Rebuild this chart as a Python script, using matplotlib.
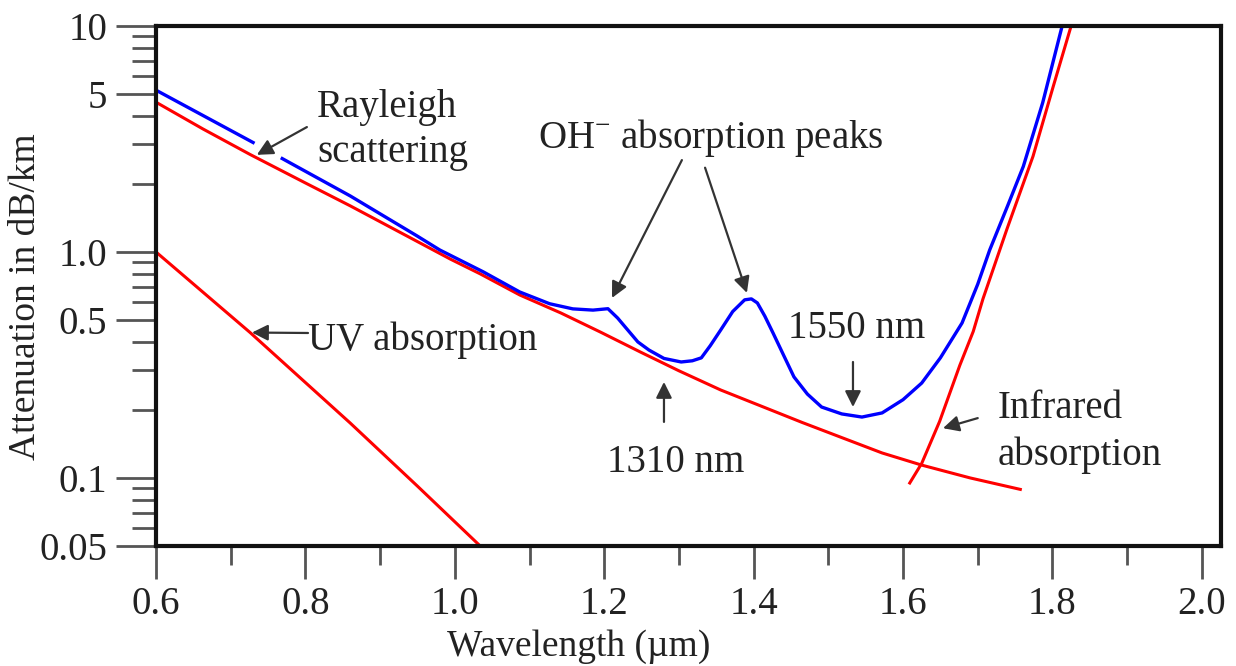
import numpy as np
import matplotlib
matplotlib.use('Agg')
import matplotlib.pyplot as plt
from matplotlib.ticker import FixedLocator, FixedFormatter

plt.rcParams['font.family'] = ['Liberation Serif', 'DejaVu Serif']
plt.rcParams['mathtext.fontset'] = 'custom'
plt.rcParams['mathtext.rm'] = 'Liberation Serif'

# total attenuation (blue), gap where the Rayleigh arrow points
wl_total = [0.600, 0.730, np.nan, 0.769, 0.860, 0.949, 0.980, 1.038, 1.087, 1.127,
            1.158, 1.185, 1.205, 1.218, 1.228, 1.245, 1.260, 1.280, 1.303, 1.318,
            1.330, 1.342, 1.356, 1.372, 1.388, 1.397, 1.405, 1.415, 1.426, 1.440,
            1.454, 1.472, 1.491, 1.518, 1.545, 1.572, 1.600, 1.625, 1.650, 1.679,
            1.700, 1.716, 1.740, 1.761, 1.787, 1.813]
att_total = [5.2, 3.05, np.nan, 2.59, 1.77, 1.18, 1.02, 0.817, 0.665, 0.59,
             0.56, 0.553, 0.561, 0.51, 0.466, 0.40, 0.368, 0.338, 0.326, 0.330,
             0.340, 0.385, 0.452, 0.545, 0.614, 0.620, 0.595, 0.52, 0.438, 0.35,
             0.28, 0.235, 0.206, 0.192, 0.186, 0.194, 0.222, 0.263, 0.34, 0.485,
             0.72, 1.02, 1.60, 2.39, 4.58, 10.0]

# Rayleigh scattering
wl_rayleigh = [0.600, 0.663, 0.726, 0.800, 0.860, 0.927, 0.994, 1.034, 1.087,
               1.142, 1.195, 1.249, 1.300, 1.356, 1.410, 1.465, 1.520, 1.572,
               1.625, 1.690, 1.757]
att_rayleigh = [4.6, 3.5, 2.70, 2.02, 1.60, 1.22, 0.93, 0.80, 0.645,
                0.537, 0.442, 0.36, 0.298, 0.245, 0.208, 0.176, 0.150, 0.129,
                0.114, 0.100, 0.089]

# UV absorption
wl_uv = [0.600, 0.726, 0.860, 0.950, 1.034]
att_uv = [1.0, 0.44, 0.175, 0.092, 0.05]

# infrared absorption
wl_ir = [1.609, 1.625, 1.649, 1.676, 1.694, 1.707, 1.739, 1.774, 1.801, 1.825]
att_ir = [0.095, 0.116, 0.178, 0.315, 0.445, 0.62, 1.26, 2.65, 5.39, 10.0]

y_major = [0.05, 0.1, 0.5, 1.0, 5, 10]
y_labels = ['0.05', '0.1', '0.5', '1.0', '5', '10']
y_minor = [0.06, 0.07, 0.08, 0.09, 0.2, 0.3, 0.4, 0.6, 0.7, 0.8, 0.9,
           2, 3, 4, 6, 7, 8, 9]
x_major = [0.6, 0.8, 1.0, 1.2, 1.4, 1.6, 1.8, 2.0]
x_labels = ['0.6', '0.8', '1.0', '1.2', '1.4', '1.6', '1.8', '2.0']
x_minor = [0.7, 0.9, 1.1, 1.3, 1.5, 1.7, 1.9]

fig = plt.figure(figsize=(12.36, 6.66), dpi=100)
ax = fig.add_axes([0.1262, 0.1802, 0.8617, 0.7808])

ax.plot(wl_rayleigh, att_rayleigh, color='#ff0000', lw=2.2)
ax.plot(wl_uv, att_uv, color='#ff0000', lw=2.2)
ax.plot(wl_ir, att_ir, color='#ff0000', lw=2.2)
ax.plot(wl_total, att_total, color='#0000ff', lw=2.4)

ax.set_yscale('log')
ax.set_xlim(0.6, 2.0257)
ax.set_ylim(0.05, 10)

ax.yaxis.set_major_locator(FixedLocator(y_major))
ax.yaxis.set_major_formatter(FixedFormatter(y_labels))
ax.yaxis.set_minor_locator(FixedLocator(y_minor))
ax.yaxis.set_minor_formatter(FixedFormatter([''] * len(y_minor)))
ax.xaxis.set_major_locator(FixedLocator(x_major))
ax.xaxis.set_major_formatter(FixedFormatter(x_labels))
ax.xaxis.set_minor_locator(FixedLocator(x_minor))

ax.tick_params(axis='y', which='major', direction='out', length=29, width=2,
               color='#555555', labelsize=28, labelcolor='#222222', pad=6)
ax.tick_params(axis='y', which='minor', direction='out', length=17, width=2,
               color='#555555')
ax.tick_params(axis='x', which='major', direction='out', length=24, width=2,
               color='#555555', labelsize=28, labelcolor='#222222', pad=5)
ax.tick_params(axis='x', which='minor', direction='out', length=14, width=2,
               color='#555555')

for s in ax.spines.values():
    s.set_linewidth(3)
    s.set_color('#111111')

ax.set_xlabel('Wavelength (µm)', fontsize=27, color='#222222', va='baseline')
ax.xaxis.set_label_coords(0.397, -0.2115)
ax.set_ylabel('Attenuation in dB/km', fontsize=27, color='#222222')
ax.yaxis.set_label_coords(-0.106, 0.479)

txt = dict(fontsize=28, color='#222222', ha='left', va='baseline')
arw = dict(arrowstyle='-|>', color='#333333', lw=1.6, mutation_scale=24,
           shrinkA=0, shrinkB=0)

ax.text(0.8155, 3.95, 'Rayleigh', **txt)
ax.text(0.8155, 2.50, 'scattering', **txt)
ax.annotate('', xy=(0.735, 2.69), xytext=(0.802, 3.57), arrowprops=arw)

ax.text(0.8035, 0.368, 'UV absorption', **txt)
ax.annotate('', xy=(0.7285, 0.44), xytext=(0.8035, 0.438), arrowprops=arw)

ax.text(1.111, 2.88, r'OH$^{\mathregular{-}}$ absorption peaks', **txt)
ax.annotate('', xy=(1.2104, 0.626), xytext=(1.304, 2.55), arrowprops=arw)
ax.annotate('', xy=(1.391, 0.659), xytext=(1.335, 2.36), arrowprops=arw)

ax.text(1.204, 0.106, '1310 nm', **txt)
ax.annotate('', xy=(1.280, 0.266), xytext=(1.280, 0.177), arrowprops=arw)

ax.text(1.446, 0.416, '1550 nm', **txt)
ax.annotate('', xy=(1.533, 0.206), xytext=(1.533, 0.326), arrowprops=arw)

ax.text(1.726, 0.184, 'Infrared', **txt)
ax.text(1.726, 0.114, 'absorption', **txt)
ax.annotate('', xy=(1.6535, 0.166), xytext=(1.700, 0.184), arrowprops=arw)

fig.savefig('out.png', dpi=100)
